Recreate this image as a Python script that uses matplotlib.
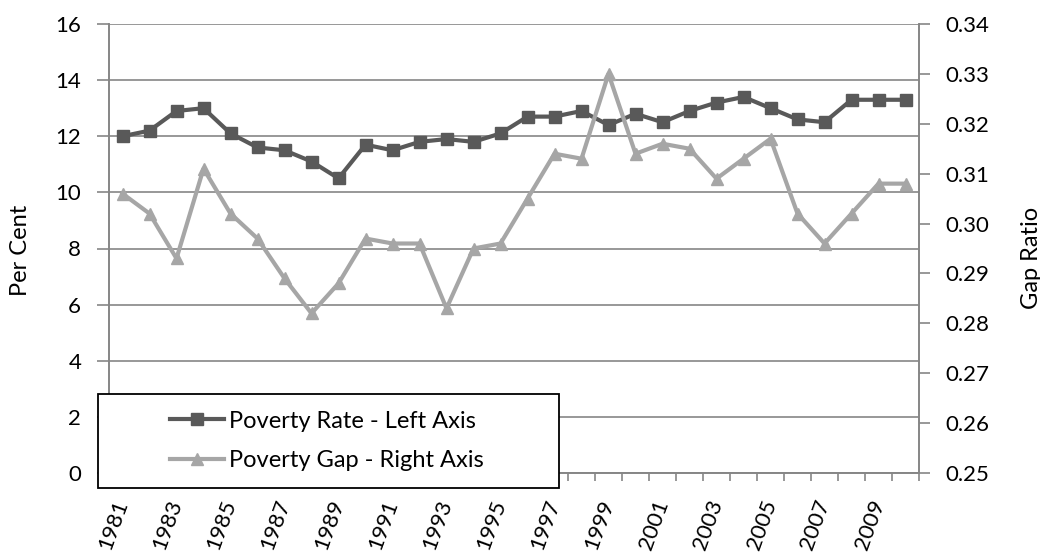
import numpy as np
import matplotlib
matplotlib.use('Agg')
import matplotlib.pyplot as plt
import matplotlib.patches as mpatches
import matplotlib.transforms as mtrans

plt.rcParams['font.family'] = ['Lato', 'DejaVu Sans']

years = list(range(1981, 2011))
poverty_rate = [12.0, 12.2, 12.9, 13.0, 12.1, 11.6, 11.5, 11.1, 10.5, 11.7,
                11.5, 11.8, 11.9, 11.8, 12.1, 12.7, 12.7, 12.9, 12.4, 12.8,
                12.5, 12.9, 13.2, 13.4, 13.0, 12.6, 12.5, 13.3, 13.3, 13.3]
poverty_gap = [0.306, 0.302, 0.293, 0.311, 0.302, 0.297, 0.289, 0.282, 0.288, 0.297,
               0.296, 0.296, 0.283, 0.295, 0.296, 0.305, 0.314, 0.313, 0.330, 0.314,
               0.316, 0.315, 0.309, 0.313, 0.317, 0.302, 0.296, 0.302, 0.308, 0.308]
tick_years = [str(y) for y in years[::2]]

dark = '#595959'
light = '#A6A6A6'
axis_grey = '#868686'
W, H = 1040, 554

fig = plt.figure(figsize=(10.4, 5.54), dpi=100)
ax = fig.add_axes([109 / W, (H - 473) / H, 810 / W, 449 / H])
ax2 = ax.twinx()

x = np.arange(len(years))
l1, = ax.plot(x, poverty_rate, color=dark, lw=3, marker='s', ms=8,
              label='Poverty Rate - Left Axis', zorder=3)
l2, = ax2.plot(x, poverty_gap, color=light, lw=3, marker='^', ms=9,
               label='Poverty Gap - Right Axis', zorder=3)

ax.set_xlim(-0.5, len(years) - 0.5)
ax.set_ylim(0, 16)
ax.set_yticks(np.arange(0, 17, 2))
ax2.set_ylim(0.25, 0.34)
gap_ticks = np.arange(0.25, 0.3401, 0.01)
ax2.set_yticks(gap_ticks)
ax2.set_yticklabels(['%.2f' % v for v in gap_ticks])

ax.grid(axis='y', color=axis_grey, lw=1.2)
ax.set_axisbelow(True)

ax.set_xticks(x[::2])
ax.set_xticklabels(tick_years, rotation=70, ha='right', va='center',
                   rotation_mode='anchor', fontsize=16)
offset = mtrans.ScaledTranslation(3 / 100, 0, fig.dpi_scale_trans)
for lab in ax.get_xticklabels():
    lab.set_transform(lab.get_transform() + offset)
ax.set_xticks(np.arange(-0.5, len(years)), minor=True)
ax.tick_params(axis='x', which='major', length=0, pad=20)
ax.tick_params(axis='x', which='minor', length=6, color=axis_grey, width=1.2)
ax.tick_params(axis='y', length=9, color=axis_grey, width=1.2, labelsize=16, pad=11)
ax2.tick_params(axis='y', length=8, color=axis_grey, width=1.2, labelsize=16, pad=11)

for a in (ax, ax2):
    a.spines['top'].set_visible(False)
    for s in ('left', 'right', 'bottom'):
        a.spines[s].set_color(axis_grey)
        a.spines[s].set_linewidth(1.2)

fig.text(21 / W, 1 - 250 / H, 'Per Cent', rotation=90, fontsize=17,
         ha='center', va='center')
fig.text(1031 / W, 1 - 258 / H, 'Gap Ratio', rotation=90, fontsize=17,
         ha='center', va='center')

# legend box, drawn over the plot and hanging below the axis
box = mpatches.Rectangle((98 / W, (H - 488) / H), 461 / W, 94 / H,
                         transform=fig.transFigure, facecolor='white',
                         edgecolor='black', lw=1.3, zorder=5)
fig.add_artist(box)
leg = fig.legend(handles=[l1, l2], loc='center left',
                 bbox_to_anchor=(170 / W, 1 - 441 / H),
                 fontsize=17, frameon=False, borderpad=0, borderaxespad=0,
                 handlelength=2.3, handletextpad=0.2, labelspacing=0.8)
leg.set_zorder(6)

fig.savefig('out.png', dpi=100)
